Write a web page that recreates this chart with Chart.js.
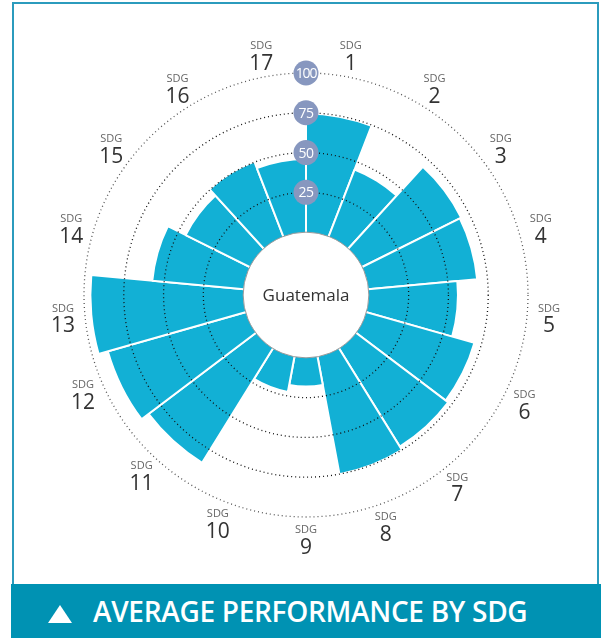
<!DOCTYPE html>
<html>
<head>
<meta charset="utf-8">
<script src="https://cdn.jsdelivr.net/npm/chart.js@4/dist/chart.umd.min.js"></script>
<style>
  html, body { margin: 0; padding: 0; background: #fff; }
  body { width: 601px; height: 638px; position: relative; overflow: hidden; font-family: "Open Sans", sans-serif; }
  .frame { position: absolute; left: 12px; top: 2px; width: 587px; height: 600px; border: 2px solid #2b9bbd; box-sizing: border-box; }
  .wrap { position: absolute; left: 0; top: 0; width: 601px; height: 638px; }
  .band { position: absolute; left: 11px; top: 584px; width: 590px; height: 54px; background: #0092b3; }
  .band .tri { position: absolute; left: 37px; top: 21px; width: 0; height: 0;
    border-left: 12.5px solid transparent; border-right: 12.5px solid transparent; border-bottom: 18px solid #fff; }
  .band .txt { position: absolute; left: 82px; top: 8px; color: #fff; font-weight: 600; font-size: 28px;
    letter-spacing: -0.3px; white-space: nowrap; }
</style>
</head>
<body>
<div class="frame"></div>
<div class="wrap"><canvas id="sdgChart"></canvas></div>
<div class="band"><div class="tri"></div><div class="txt" id="title">AVERAGE PERFORMANCE BY SDG</div></div>
<script>
// 数据
var sdgLabels = ['1','2','3','4','5','6','7','8','9','10','11','12','13','14','15','16','17'];
var sdgScores = [74.5, 45, 69.5, 68.5, 56, 70.5, 72.5, 75, 18, 22.5, 84.5, 90, 96, 57.5, 45, 50.5, 46];
var ringTicks = [25, 50, 75, 100];
var countryName = 'Guatemala';

var barColor = '#12b0d5';
var badgeColor = '#8797bf';
// small hand nudges of a few labels along the circle (in fractions of a segment)
var labelShift = { 6: 0.19, 7: 0.1, 11: 0.12 };

// hole, badges and SDG labels, all placed from the radial scale
var decor = {
  id: 'decor',
  afterDatasetsDraw: function (chart) {
    var s = chart.scales.r, ctx = chart.ctx;
    var r0 = s.getDistanceFromCenterForValue(0);
    ctx.save();
    ctx.beginPath();
    ctx.arc(s.xCenter, s.yCenter, r0, 0, Math.PI * 2);
    ctx.fillStyle = '#fff';
    ctx.fill();
    ctx.lineWidth = 1;
    ctx.strokeStyle = '#9a9a9a';
    ctx.stroke();
    ctx.fillStyle = '#333';
    ctx.font = '17px "Open Sans"';
    ctx.textAlign = 'center';
    ctx.textBaseline = 'middle';
    ctx.fillText(countryName, s.xCenter, s.yCenter + 1);
    ctx.restore();
  },
  afterDraw: function (chart) {
    var s = chart.scales.r, ctx = chart.ctx;
    ctx.save();
    ctx.textAlign = 'center';
    ctx.textBaseline = 'middle';
    ringTicks.forEach(function (v) {
      var p = s.getPointPositionForValue(0, v);
      ctx.beginPath();
      ctx.arc(p.x, p.y, 12.5, 0, Math.PI * 2);
      ctx.fillStyle = badgeColor;
      ctx.fill();
      ctx.fillStyle = '#fff';
      ctx.font = '14px "Open Sans"';
      ctx.letterSpacing = v === 100 ? '-1.2px' : '-0.5px';
      ctx.fillText(String(v), p.x, p.y + 1);
    });
    ctx.letterSpacing = '0px';
    var labelR = s.drawingArea + 22;
    sdgLabels.forEach(function (lab, i) {
      var p = s.getPointPosition(i + 0.5 + (labelShift[i] || 0), labelR);
      ctx.fillStyle = '#666';
      ctx.font = '11px "Open Sans"';
      ctx.fillText('SDG', p.x, p.y - 9);
      ctx.fillStyle = '#333';
      ctx.font = '21px "Open Sans"';
      ctx.fillText(lab, p.x, p.y + 9);
    });
    ctx.restore();
  }
};

new Chart(document.getElementById('sdgChart'), {
  type: 'polarArea',
  data: {
    labels: sdgLabels,
    datasets: [{
      data: sdgScores,
      backgroundColor: barColor,
      borderColor: '#fff',
      borderWidth: 2
    }]
  },
  options: {
    responsive: true,
    maintainAspectRatio: false,
    animation: false,
    layout: { padding: { left: 84, right: 72, top: 73, bottom: 120 } },
    plugins: { legend: { display: false }, tooltip: { enabled: false } },
    scales: {
      r: {
        min: -39.5,
        max: 100,
        ticks: { display: false, stepSize: 25 },
        pointLabels: { display: false },
        angleLines: { display: false },
        grid: {
          z: 1,
          lineWidth: 1.3,
          color: function (c) {
            if (!c.tick || c.tick.value <= 0) return 'rgba(0,0,0,0)';
            return c.tick.value === 100 ? '#555' : '#111';
          }
        },
        border: { dash: [1, 3] }
      }
    }
  },
  plugins: [decor]
});
</script>
</body>
</html>
